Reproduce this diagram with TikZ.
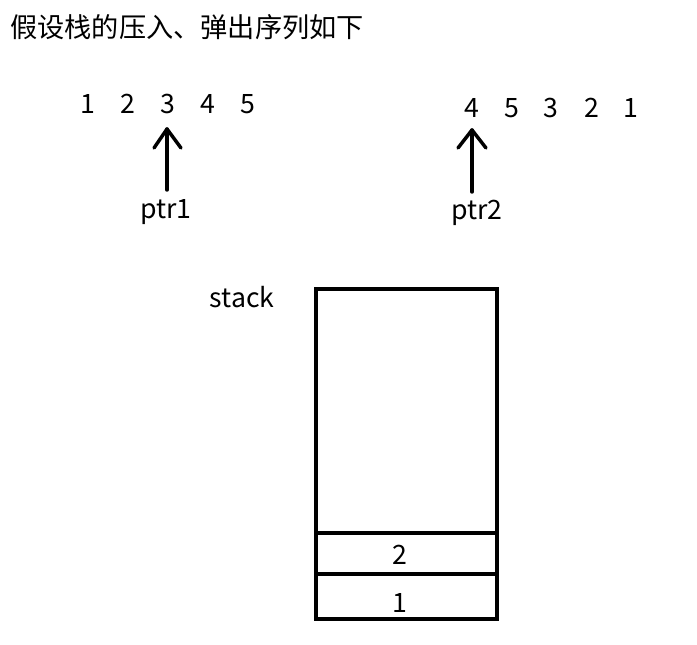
\documentclass[tikz,border=0pt]{standalone}
\usepackage{fontspec}
\setmainfont{Noto Sans CJK SC}
\begin{document}
\begin{tikzpicture}[x=0.75pt,y=-0.75pt,
  txt/.style={inner sep=0pt,font=\fontsize{20pt}{24pt}\selectfont},
  ptrarrow/.style={line width=2.6pt,line cap=round,line join=round},
  box/.style={line width=2.6pt}]
\useasboundingbox (0,0) rectangle (697,645);
\node[txt,anchor=west,font=\fontsize{20.4pt}{24pt}\selectfont] (title) at (10,27) {假设栈的压入、弹出序列如下};
% push sequence
\node[txt] (a1) at (88,104) {1};
\node[txt] (a2) at (128,104) {2};
\node[txt] (a3) at (168,104) {3};
\node[txt] (a4) at (208,104) {4};
\node[txt] (a5) at (248,104) {5};
% pop sequence
\node[txt] (b1) at (472,108) {4};
\node[txt] (b2) at (512,108) {5};
\node[txt] (b3) at (551,108) {3};
\node[txt] (b4) at (592,108) {2};
\node[txt] (b5) at (631,108) {1};
% pointers
\node[txt] (p1) at (166,212) {ptr1};
\node[txt] (p2) at (477,213) {ptr2};
\coordinate (t1) at (167,129);
\coordinate (s1) at (167,190);
\coordinate (t2) at (472,130);
\coordinate (s2) at (472,192);
\draw[ptrarrow] (s1) -- (t1);
\draw[ptrarrow] (154,148) -- (t1) -- (181,148);
\draw[ptrarrow] (s2) -- (t2);
\draw[ptrarrow] (458,148) -- (t2) -- (486,148);
% stack
\node[txt] (stk) at (242,297) {stack};
\draw[box] (316,289) rectangle (497,619);
\draw[box] (316,533) -- (497,533);
\draw[box] (314,574) -- (495,574);
\node[txt] (e2) at (400,555) {2};
\node[txt] (e1) at (400,603) {1};
\end{tikzpicture}
\end{document}
